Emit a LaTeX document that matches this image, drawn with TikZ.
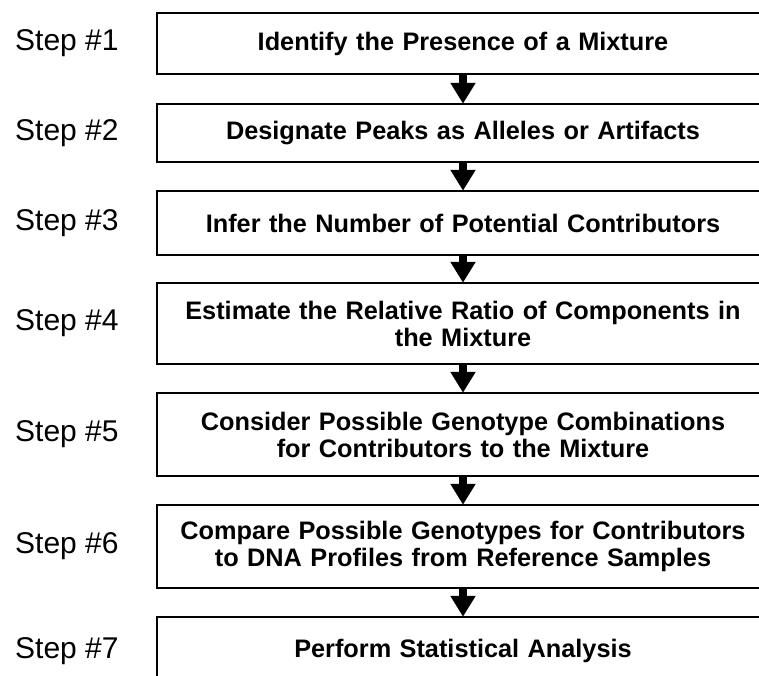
\documentclass[tikz,border=0pt]{standalone}
\usepackage{fontspec}
\setmainfont{Liberation Sans}
\usetikzlibrary{arrows.meta}

\begin{document}
\begin{tikzpicture}[
      x = 1pt, y = -1pt,
      stage/.style = {
        rectangle,
        draw = black, line width = 1.5pt,
        align = center,
        text width = 600pt,
        inner xsep = 6pt, inner ysep = 0,
        font = \fontsize{25.3}{27}\selectfont\bfseries,
      },
      steplabel/.style = {
        anchor = west,
        inner sep = 0,
        font = \fontsize{30}{32}\selectfont,
      },
      flow/.style = {
        line width = 8pt,
        -{Triangle[width = 24pt, length = 21pt]},
        shorten >= -0.5pt,
      }
    ]
    \useasboundingbox (0,0) rectangle (759,675);

    \node[stage, minimum height = 61pt] (b1) at (463,43.5)  {Identify the Presence of a Mixture};
    \node[stage, minimum height = 58pt] (b2) at (463,133)   {Designate Peaks as Alleles or Artifacts};
    \node[stage, minimum height = 64pt] (b3) at (463,223)   {Infer the Number of Potential Contributors};
    \node[stage, minimum height = 81pt] (b4) at (463,323.5) {Estimate the Relative Ratio of Components in\\the Mixture};
    \node[stage, minimum height = 83pt] (b5) at (463,434.5) {Consider Possible Genotype Combinations\\for Contributors to the Mixture};
    \node[stage, minimum height = 83pt] (b6) at (463,546.5) {Compare Possible Genotypes for Contributors\\to DNA Profiles from Reference Samples};
    \node[stage, minimum height = 68pt] (b7) at (463,651)   {Perform Statistical Analysis};

    % step numbers, level with their stages
    \coordinate (lx) at (15,0);
    \foreach \i in {1,...,7}
      \node[steplabel] (s\i) at (b\i -| lx) {Step \#\i};

    % arrows between the stages
    \begin{scope}[flow]
      \draw (b1) -- (b2);
      \draw (b2) -- (b3);
      \draw (b3) -- (b4);
      \draw (b4) -- (b5);
      \draw (b5) -- (b6);
      \draw (b6) -- (b7);
    \end{scope}

  \end{tikzpicture}
\end{document}
